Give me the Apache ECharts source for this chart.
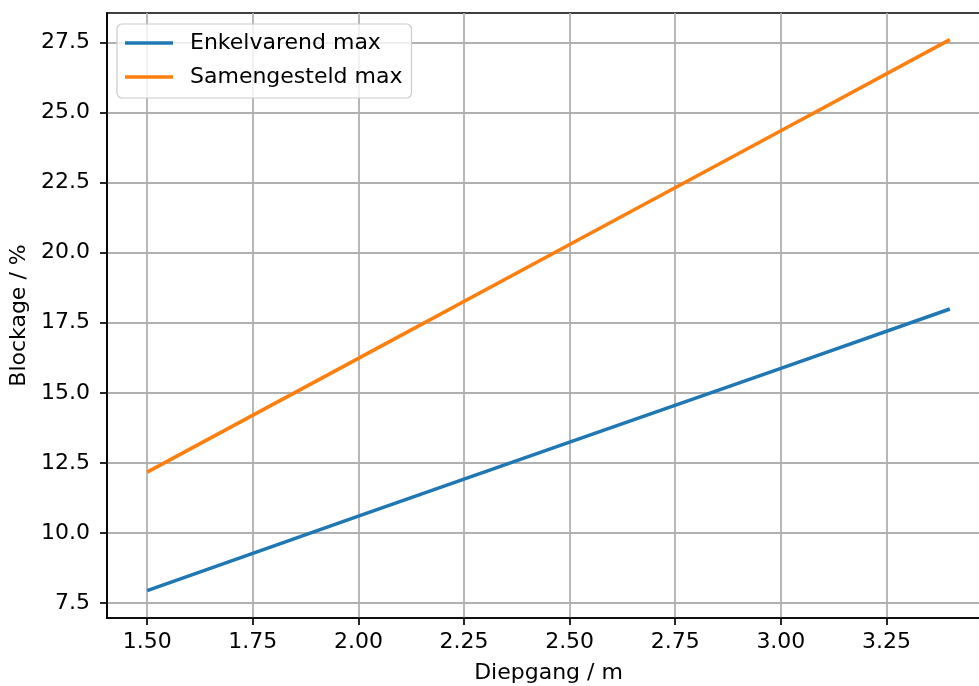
<!DOCTYPE html>
<html><head><meta charset="utf-8">
<script src="https://cdn.jsdelivr.net/npm/echarts@6/dist/echarts.min.js"></script>
<style>html,body{margin:0;padding:0;background:#fff}#c{width:979px;height:686px}</style>
</head><body><div id="c"></div>
<script>
const diepgang = [1.5, 2.0, 2.5, 3.0, 3.4];
const enkelvarend = [7.94, 10.6, 13.24, 15.87, 17.99];
const samengesteld = [12.17, 16.23, 20.29, 24.35, 27.6];
const xTicks = [1.5, 1.75, 2.0, 2.25, 2.5, 2.75, 3.0, 3.25];
const yTicks = [7.5, 10.0, 12.5, 15.0, 17.5, 20.0, 22.5, 25.0, 27.5];
const seriesNames = ['Enkelvarend max', 'Samengesteld max'];

const font = 'DejaVu Sans';
const fs = 22;
const chart = echarts.init(document.getElementById('c'), null, {renderer: 'canvas'});
const axisCommon = {
  axisLine: {show: true, onZero: false, lineStyle: {color: '#000', width: 1.7}},
  axisTick: {show: true, length: 7, inside: false, lineStyle: {color: '#000', width: 1.7}},
  splitLine: {show: true, lineStyle: {color: '#b0b0b0', width: 1.8}},
  nameTextStyle: {fontFamily: font, fontSize: fs, color: '#000'}
};
chart.setOption({
  animation: false,
  backgroundColor: '#fff',
  grid: {left: 107, top: 13, right: -11, bottom: 68, show: true, borderColor: '#000', borderWidth: 1.7, backgroundColor: 'transparent', containLabel: false, outerBoundsMode: 'none'},
  legend: {
    orient: 'vertical', left: 117, top: 24,
    padding: [8, 9, 10, 8],
    itemGap: 12, itemWidth: 48, itemHeight: 3.6, icon: 'rect',
    backgroundColor: 'rgba(255,255,255,0.8)', borderColor: '#cccccc', borderWidth: 1.2, borderRadius: 5,
    textStyle: {fontFamily: font, fontSize: fs, color: '#000', padding: [0, 0, 0, 12]},
    data: seriesNames
  },
  xAxis: Object.assign({}, axisCommon, {
    type: 'value', min: 1.405, max: 3.495,
    name: 'Diepgang / m', nameLocation: 'middle', nameGap: 44,
    axisTick: Object.assign({}, axisCommon.axisTick, {customValues: xTicks}),
    splitLine: Object.assign({}, axisCommon.splitLine, {customValues: xTicks}),
    axisLabel: {customValues: xTicks, margin: 13, fontFamily: font, fontSize: fs, color: '#000', formatter: v => v.toFixed(2)}
  }),
  yAxis: Object.assign({}, axisCommon, {
    type: 'value', min: 6.965, max: 28.55,
    name: 'Blockage / %', nameLocation: 'middle', nameGap: 73,
    axisTick: Object.assign({}, axisCommon.axisTick, {customValues: yTicks}),
    splitLine: Object.assign({}, axisCommon.splitLine, {customValues: yTicks}),
    axisLabel: {customValues: yTicks, margin: 17, fontFamily: font, fontSize: fs, color: '#000', formatter: v => v.toFixed(1)}
  }),
  series: [
    {name: seriesNames[0], type: 'line', data: diepgang.map((x, i) => [x, enkelvarend[i]]), showSymbol: false, symbol: 'none', lineStyle: {color: '#1f77b4', width: 3.6}, itemStyle: {color: '#1f77b4'}},
    {name: seriesNames[1], type: 'line', data: diepgang.map((x, i) => [x, samengesteld[i]]), showSymbol: false, symbol: 'none', lineStyle: {color: '#ff7f0e', width: 3.6}, itemStyle: {color: '#ff7f0e'}}
  ]
});
</script></body></html>
